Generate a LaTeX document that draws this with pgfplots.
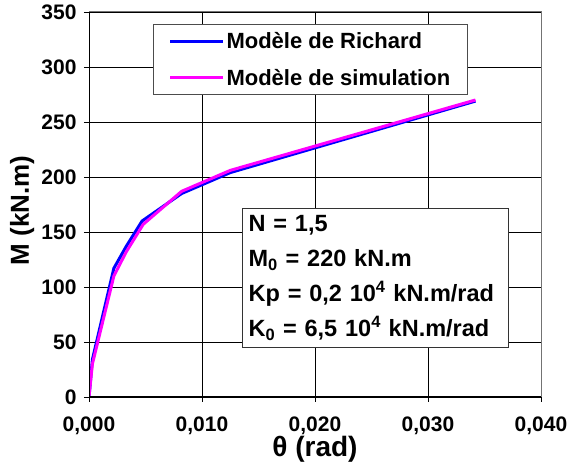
\documentclass[border=0pt]{standalone}
\usepackage{fontspec}
\setmainfont{Liberation Sans}
\usepackage{pgfplots}
\pgfplotsset{compat=1.18}
\definecolor{richard}{RGB}{0,0,255}
\definecolor{simu}{RGB}{255,0,255}
\begin{document}
\begin{tikzpicture}
\begin{axis}[
    scale only axis,
    width=452pt, height=385pt,
    xmin=0, xmax=0.04, ymin=0, ymax=350,
    xtick={0,0.01,0.02,0.03,0.04},
    ytick={0,50,...,350},
    scaled x ticks=false,
    xticklabel style={yshift=-11pt, /pgf/number format/fixed,
        /pgf/number format/fixed zerofill, /pgf/number format/precision=3,
        /pgf/number format/use comma},
    yticklabel style={xshift=-4pt},
    /pgf/number format/assume math mode=true,
    tick label style={font=\fontsize{21}{23}\selectfont\bfseries},
    xtick pos=left, ytick pos=left,
    tick align=outside, major tick length=5pt,
    tick style={black, line width=0.8pt},
    grid=major,
    grid style={black, line width=0.8pt},
    axis line style={black!55, line width=1pt},
    xlabel={θ (rad)},
    ylabel={M (kN.m)},
    label style={font=\fontsize{26}{28}\selectfont\bfseries},
    xlabel style={at={(axis description cs:0.5,-0.137)}, anchor=center, font=\fontsize{28}{30}\selectfont\bfseries},
    ylabel style={at={(axis description cs:-0.148,0.485)}, anchor=center, rotate=0},
    legend style={at={(rel axis cs:0.1416,0.969)}, anchor=north west,
        draw=black!70, line width=1pt, fill=white,
        font=\fontsize{22}{24}\selectfont\bfseries,
        inner xsep=15pt, inner ysep=6pt, row sep=15pt},
    legend cell align=left,
    legend image code/.code={\draw[#1, line width=3pt] (0pt,0pt) -- (53pt,0pt);},
]
% Modele de Richard
\addplot[richard, line width=3pt] coordinates {
    (0,0) (0.0003,34) (0.0022,117) (0.0033,137) (0.0047,160)
    (0.0082,185) (0.0125,204) (0.0342,269)
};
% Modele de simulation
\addplot[simu, line width=3pt] coordinates {
    (0,0) (0.0003,30) (0.0022,110) (0.0033,132) (0.0048,157)
    (0.0082,187) (0.0125,206) (0.0342,270)
};
\legend{Modèle de Richard, Modèle de simulation}
\draw[black, line width=1pt] (rel axis cs:0,1) -- (rel axis cs:0,0) -- (rel axis cs:1,0);
\node[draw=black!80, line width=1.2pt, fill=white, anchor=north west, align=left,
      font=\fontsize{23.5}{35}\selectfont\bfseries, inner xsep=6pt, inner ysep=7pt,
      text width=254pt]
    at (rel axis cs:0.3385,0.491)
    {N = 1,5\\M\textsubscript{0} = 220 kN.m\\Kp = 0,2 10\textsuperscript{4} kN.m/rad\\K\textsubscript{0} = 6,5 10\textsuperscript{4} kN.m/rad};
\coordinate (bl) at (rel axis cs:0,0);
\coordinate (tr) at (rel axis cs:1,1);
\end{axis}
\pgfresetboundingbox
\path ([shift={(-89pt,-72pt)}]bl) rectangle ([shift={(27pt,12pt)}]tr);
\end{tikzpicture}
\end{document}
